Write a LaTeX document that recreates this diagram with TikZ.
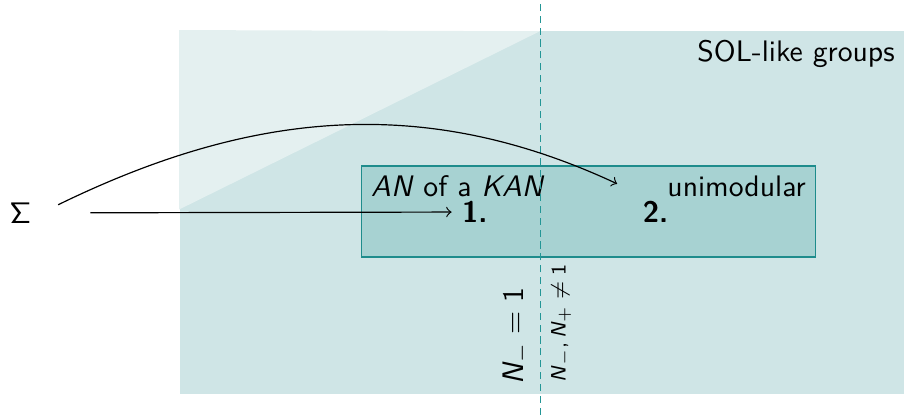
\documentclass[tikz,border=0pt]{standalone}
\renewcommand{\familydefault}{\sfdefault}
\usepackage{xcolor}
\usetikzlibrary{arrows.meta,positioning}

\definecolor{solpale}{RGB}{207,229,230}
\definecolor{sollight}{RGB}{228,240,240}
\definecolor{solmid}{RGB}{167,210,210}
\definecolor{solline}{RGB}{30,140,140}
\definecolor{soldash}{RGB}{35,150,150}

\newcommand{\Nsub}[1]{\textit{N}$_{#1}$}

\begin{document}
\begin{tikzpicture}[
  >=to,
  groupbox/.style={fill=solpale, draw=none, inner sep=0pt},
  classbox/.style={draw=solline, fill=solmid, line width=0.5pt, inner sep=0pt},
  divider/.style={draw=soldash, line width=0.5pt, dash pattern=on 2.4pt off 1.6pt},
  case/.style={font=\bfseries},
  flow/.style={->, line width=0.4pt}
]
\useasboundingbox (0,0) rectangle (10.70,4.91);

% the SOL-like groups and the lighter corner
\node[groupbox, minimum width=8.58cm, minimum height=4.30cm, anchor=south west] (sol) at (2.12,0.24) {};
\fill[sollight] (sol.north west) -- (6.39,4.54) -- (2.12,2.43) -- cycle;
\node[anchor=north east] (soltitle) at (sol.north east) {SOL-like groups};

% AN of a KAN / unimodular
\node[classbox, minimum width=5.375cm, minimum height=1.075cm, anchor=south west] (cls) at (4.27,1.86) {};
\node[anchor=north west] (kan) at (cls.north west) {\textit{AN} of a \textit{KAN}};
\node[anchor=north east] (unimod) at (cls.north east) {unimodular};

\node[case] (one) at (5.62,2.40) {1.};
\node[case] (two) at (7.76,2.40) {2.};

% split by N_-
\draw[divider] (6.40,0) -- (6.40,4.91);
\node[rotate=90, anchor=south west] (nmin) at (6.40,0.23) {\Nsub{-}\;=\;1};
\node[rotate=90, anchor=north west, font=\scriptsize] (nboth) at (6.40,0.26) {\Nsub{-},\,\Nsub{+}\;$\neq$\;1};

\node (sigma) at (0.24,2.39) {Σ};

\draw[flow, shorten <=0.58cm] (sigma.east) -- (one.west);
\draw[flow, shorten <=0.22cm, shorten >=0.2cm] (sigma.east) to[out=26, in=155, looseness=1.0] (two.north west);
\end{tikzpicture}
\end{document}
